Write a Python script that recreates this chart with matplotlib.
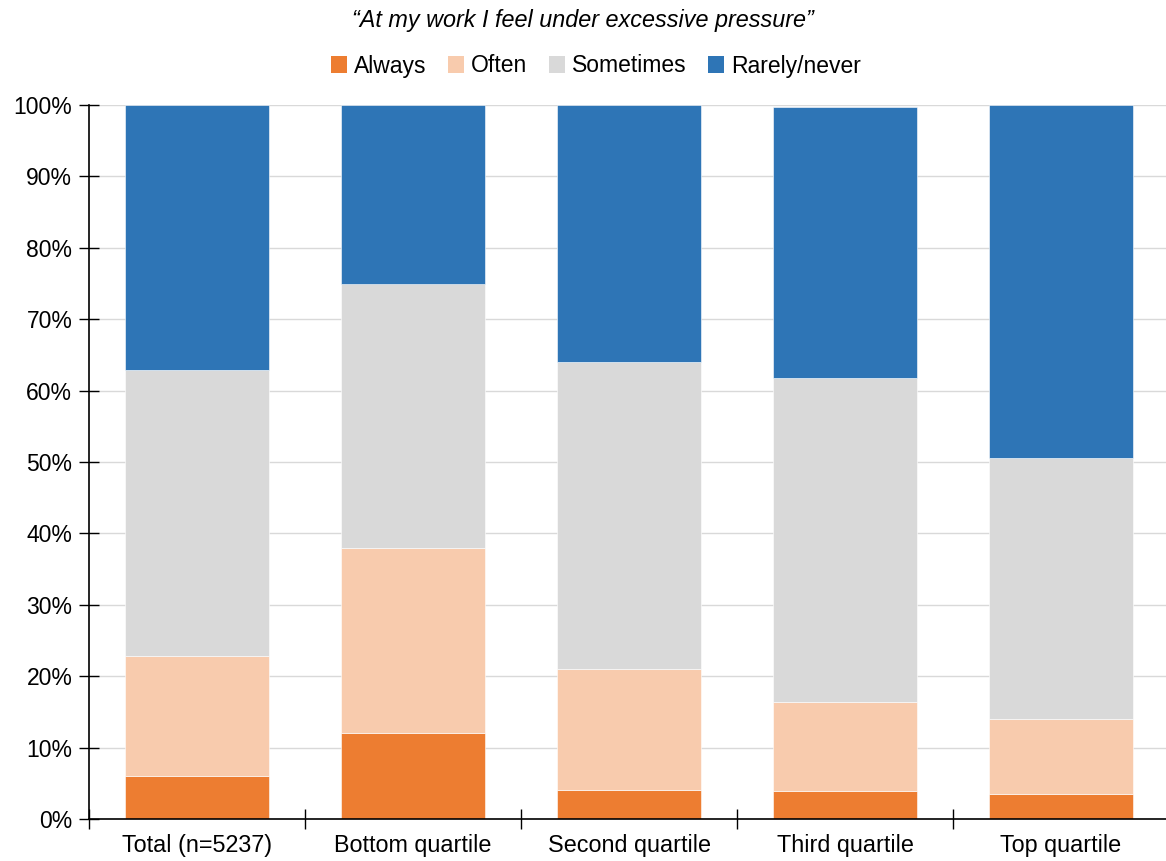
import numpy as np
import matplotlib.pyplot as plt
from matplotlib.patches import Patch

plt.rcParams['font.family'] = ['Liberation Sans', 'DejaVu Sans']

groups = ["Total (n=5237)", "Bottom quartile", "Second quartile", "Third quartile", "Top quartile"]
answers = ["Always", "Often", "Sometimes", "Rarely/never"]
always = [6.0, 12.0, 4.0, 3.9, 3.5]
often = [16.8, 26.0, 17.0, 12.5, 10.5]
sometimes = [40.1, 37.0, 43.0, 45.4, 36.6]
rarely = [37.1, 25.0, 36.0, 37.9, 49.4]
colors = ["#ED7D31", "#F8CBAD", "#D9D9D9", "#2E75B6"]

fig = plt.figure(figsize=(11.66, 8.61), dpi=100)
ax = fig.add_axes([89 / 1166, 1 - 819 / 861, 1080 / 1166, 714 / 861])

x = np.arange(len(groups)) + 0.5
bottom = np.zeros(len(groups))
for vals, col in zip([always, often, sometimes, rarely], colors):
    ax.bar(x, vals, width=0.67, bottom=bottom, color=col, edgecolor="white",
           linewidth=0.4, zorder=2)
    bottom += np.array(vals)

ax.set_xlim(0, len(groups))
ax.set_ylim(0, 100)
ax.set_yticks(np.arange(0, 101, 10))
ax.set_yticklabels([f"{v}%" for v in range(0, 101, 10)], fontsize=16.5)
ax.yaxis.grid(True, color="#D9D9D9", linewidth=1, zorder=0)
ax.set_axisbelow(True)

# category separators on the x axis
ax.set_xticks(np.arange(len(groups) + 1))
ax.set_xticklabels([])
ax.set_xticks(x, minor=True)
ax.set_xticklabels(groups, minor=True, fontsize=16.8)
ax.tick_params(axis="x", which="minor", length=0, pad=11)
ax.tick_params(axis="x", which="major", direction="inout", length=14, width=1)
ax.tick_params(axis="y", direction="inout", length=14, width=1, pad=5)

for side in ["top", "right"]:
    ax.spines[side].set_visible(False)
ax.spines["left"].set_linewidth(1.2)
ax.spines["bottom"].set_linewidth(1.2)

fig.text(0.5, 1 - 20 / 861, "\u201cAt my work I feel under excessive pressure\u201d",
         ha="center", va="center", fontsize=16.8, style="italic")

handles = [Patch(facecolor=c, label=a) for a, c in zip(answers, colors)]
fig.legend(handles=handles, loc="center", bbox_to_anchor=(0.511, 1 - 66 / 861),
           ncol=4, frameon=False, fontsize=16.5, handlelength=0.7, handleheight=0.7,
           handletextpad=0.3, columnspacing=0.95)

fig.savefig("out.png", dpi=100)
